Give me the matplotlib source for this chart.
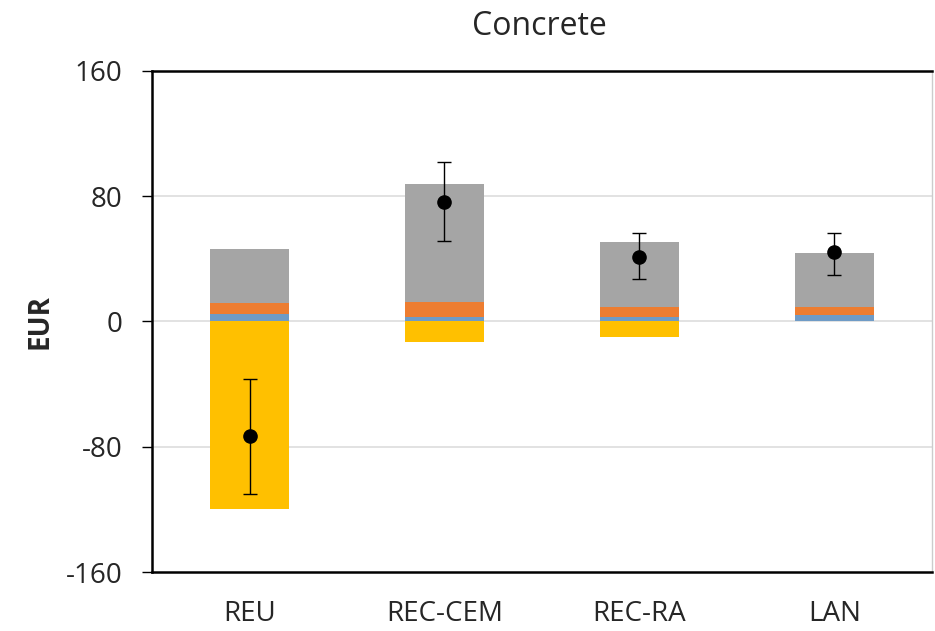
import matplotlib
matplotlib.use("Agg")
import matplotlib.pyplot as plt
import numpy as np

plt.rcParams['font.family'] = ['Open Sans', 'DejaVu Sans']

categories = ["REU", "REC-CEM", "REC-RA", "LAN"]
blue_vals = [5, 3, 3, 4]
orange_vals = [7, 9.5, 6.5, 5.5]
gray_vals = [34, 75.5, 41.5, 34]
yellow_vals = [-120, -13, -9.7, 0]
point_vals = [-73, 76.5, 41.4, 44.6]
err_low = [-110, 51.6, 27, 29.7]
err_high = [-36.7, 101.7, 56.7, 56.7]
yticks = [-160, -80, 0, 80, 160]

c_blue = "#6F9BC6"
c_orange = "#ED7D31"
c_gray = "#A5A5A5"
c_yellow = "#FFC000"
txt = "#262626"

fig = plt.figure(figsize=(9.35, 6.31), dpi=100)
ax = fig.add_axes([0.1626, 0.0935, 0.834, 0.794])

x = np.arange(len(categories))
w = 0.405
blue = np.array(blue_vals)
orange = np.array(orange_vals)
gray = np.array(gray_vals)
ax.bar(x, yellow_vals, w, color=c_yellow, zorder=2)
ax.bar(x, blue, w, color=c_blue, zorder=2)
ax.bar(x, orange, w, bottom=blue, color=c_orange, zorder=2)
ax.bar(x, gray, w, bottom=blue + orange, color=c_gray, zorder=2)

pts = np.array(point_vals)
yerr = np.vstack([pts - np.array(err_low), np.array(err_high) - pts])
ax.errorbar(x, pts, yerr=yerr, fmt='o', color='black', ms=9.5,
            ecolor='black', elinewidth=1, capsize=4.7, capthick=1, zorder=4)

ax.set_xlim(-0.5, len(categories) - 0.5)
ax.set_ylim(-160, 160)
ax.set_yticks(yticks)
ax.set_yticklabels([str(t) for t in yticks], fontsize=20, color=txt)
ax.set_xticks(x)
ax.set_xticklabels(categories, fontsize=20, color=txt)
ax.tick_params(axis='x', length=0, pad=20)
ax.tick_params(axis='y', length=7.5, width=1, direction='out', pad=14)

for v in [-80, 0, 80]:
    ax.axhline(v, color="#DDDDDD", lw=1.2, zorder=1)

for s in ['left', 'bottom', 'top']:
    ax.spines[s].set_color('black')
    ax.spines[s].set_linewidth(1.8)
ax.spines['right'].set_color('#CCCCCC')
ax.spines['right'].set_linewidth(1)

fig.text(0.043, 0.49, "EUR", rotation=90, ha='center', va='center',
         fontsize=20, fontweight='bold', color=txt)
fig.text(0.5765, 0.9445, "Concrete", ha='center', va='baseline', fontsize=23, color=txt)

fig.savefig("out.png", dpi=100)
